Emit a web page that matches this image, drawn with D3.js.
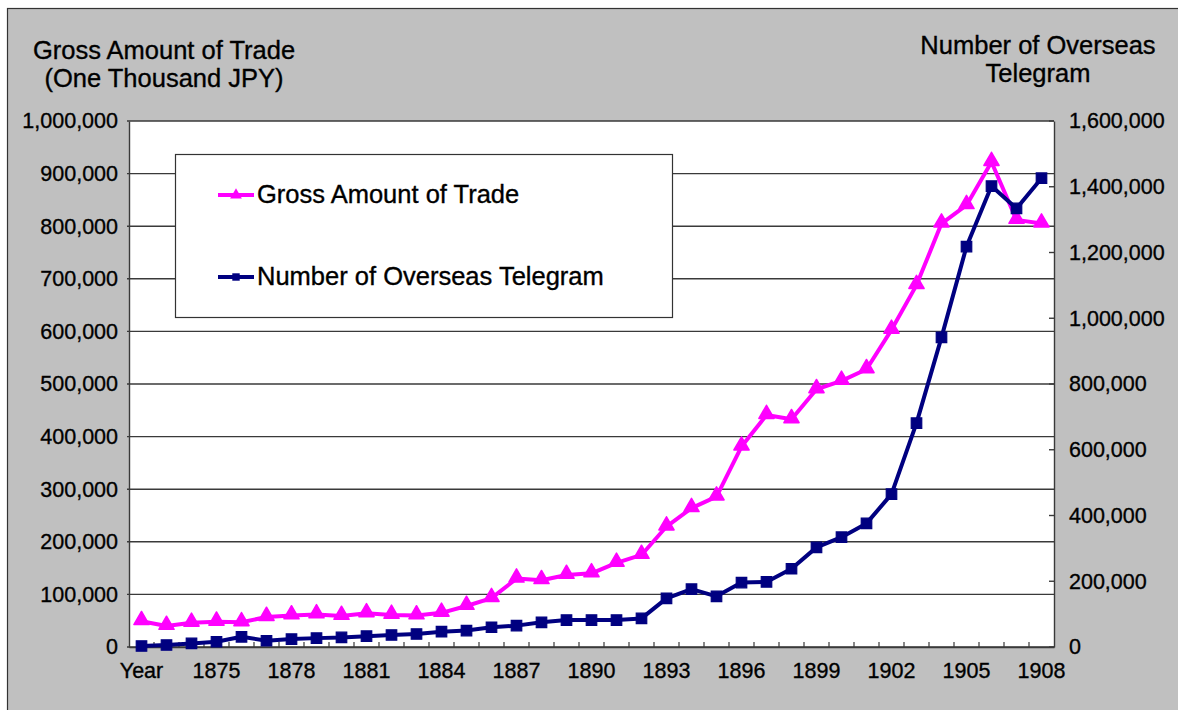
<!DOCTYPE html>
<html>
<head>
<meta charset="utf-8">
<script src="https://cdn.jsdelivr.net/npm/d3@7"></script>
<style>
  html, body { margin: 0; padding: 0; background: #ffffff; }
  svg { display: block; }
  text { font-family: "Liberation Sans", Arial, sans-serif; fill: #000; stroke: #000; stroke-width: 0.35px; }
</style>
</head>
<body>
<svg id="chart" width="1178" height="710"></svg>
<script>
// ---- data ----
const categories = [1872, 1873, 1874, 1875, 1876, 1877, 1878, 1879, 1880, 1881,
  1882, 1883, 1884, 1885, 1886, 1887, 1888, 1889, 1890, 1891,
  1892, 1893, 1894, 1895, 1896, 1897, 1898, 1899, 1900, 1901,
  1902, 1903, 1904, 1905, 1906, 1907, 1908];
const tickYears = [1872, 1875, 1878, 1881, 1884, 1887, 1890, 1893, 1896, 1899, 1902, 1905, 1908];
const tickLabels = ["Year", "1875", "1878", "1881", "1884", "1887", "1890", "1893", "1896", "1899", "1902", "1905", "1908"];
const tradeValues = [49000, 40000, 46000, 48000, 47000, 57000, 60000, 62000, 59000, 64000,
  61000, 60000, 65000, 78000, 93000, 130000, 127000, 137000, 140000, 160000,
  175000, 229000, 264000, 286000, 381000, 441000, 433000, 490000, 506000, 528000,
  603000, 688000, 805000, 840000, 922000, 812000, 805000];
const telegramValues = [3000, 6000, 11000, 16000, 31000, 19000, 24000, 27000, 29000, 33000,
  36500, 39500, 46500, 50000, 60000, 65000, 75000, 82000, 82000, 82000,
  87000, 148000, 176000, 154000, 196000, 198000, 238000, 303000, 334000, 376000,
  465000, 681000, 942000, 1218000, 1402000, 1334000, 1426000];
const leftTicks = [0, 100000, 200000, 300000, 400000, 500000, 600000, 700000, 800000, 900000, 1000000];
const rightTicks = [0, 200000, 400000, 600000, 800000, 1000000, 1200000, 1400000, 1600000];
const seriesNames = ["Gross Amount of Trade", "Number of Overseas Telegram"];
const leftTitle = ["Gross Amount of Trade", "(One Thousand JPY)"];
const rightTitle = ["Number of Overseas", "Telegram"];

// ---- layout ----
const svg = d3.select("#chart");
const plot = { left: 129, right: 1054, top: 121, bottom: 647 };
const pink = "#ff00ff", navy = "#000080", gridCol = "#3a3a3a";
const tickFont = "21.5px", titleFont = "25.5px";

svg.append("rect").attr("x", 7.5).attr("y", 8.5).attr("width", 1200).attr("height", 720)
  .attr("fill", "#c0c0c0").attr("stroke", "#333").attr("stroke-width", 1.2);

const x = d3.scaleBand().domain(categories).range([plot.left, plot.right]).padding(0);
const cx = d => x(d) + x.bandwidth() / 2;
const yL = d3.scaleLinear().domain([0, 1000000]).range([plot.bottom, plot.top]);
const yR = d3.scaleLinear().domain([0, 1600000]).range([plot.bottom, plot.top]);

svg.append("rect").attr("x", plot.left).attr("y", plot.top)
  .attr("width", plot.right - plot.left).attr("height", plot.bottom - plot.top)
  .attr("fill", "#fff");

// gridlines
svg.append("g").selectAll("line").data(leftTicks).join("line")
  .attr("x1", plot.left - 2).attr("x2", plot.right)
  .attr("y1", d => yL(d)).attr("y2", d => yL(d))
  .attr("stroke", gridCol).attr("stroke-width", 1.4);

// left axis
const fmt = d3.format(",");
function styleAxisText(g) {
  g.selectAll("text").attr("font-size", tickFont)
    .attr("font-family", "Liberation Sans, Arial, sans-serif").attr("fill", "#000");
}
const gL = svg.append("g").attr("transform", `translate(${plot.left},0)`)
  .call(d3.axisLeft(yL).tickValues(leftTicks).tickFormat(fmt).tickSize(0).tickPadding(11));
gL.select(".domain").attr("stroke", gridCol).attr("stroke-width", 1.4);
styleAxisText(gL);

// right axis
const gR = svg.append("g").attr("transform", `translate(${plot.right},0)`)
  .call(d3.axisRight(yR).tickValues(rightTicks).tickFormat(fmt).tickSize(0).tickPadding(15));
gR.select(".domain").attr("stroke", gridCol).attr("stroke-width", 1.4);
styleAxisText(gR);
svg.append("g").selectAll("line").data(rightTicks).join("line")
  .attr("x1", plot.right - 5).attr("x2", plot.right)
  .attr("y1", d => yR(d)).attr("y2", d => yR(d))
  .attr("stroke", gridCol).attr("stroke-width", 1.4);

// bottom axis
const gB = svg.append("g").attr("transform", `translate(0,${plot.bottom})`)
  .call(d3.axisBottom(x).tickValues(tickYears)
    .tickFormat(d => tickLabels[tickYears.indexOf(d)]).tickSize(0).tickPadding(16));
gB.select(".domain").attr("stroke", gridCol).attr("stroke-width", 1.4);
styleAxisText(gB);
svg.append("g").selectAll("line").data(categories.slice(1)).join("line")
  .attr("x1", d => x(d)).attr("x2", d => x(d))
  .attr("y1", plot.bottom - 5).attr("y2", plot.bottom)
  .attr("stroke", gridCol).attr("stroke-width", 1.2);

// series
const tri = d3.symbol().type(d3.symbolTriangle).size(100);
const sq = d3.symbol().type(d3.symbolSquare).size(110);

const lineT = d3.line().x((d, i) => cx(categories[i])).y(d => yL(d));
svg.append("path").datum(tradeValues).attr("d", lineT)
  .attr("fill", "none").attr("stroke", pink).attr("stroke-width", 4).attr("stroke-linejoin", "round");
svg.append("g").selectAll("path").data(tradeValues).join("path")
  .attr("d", tri).attr("fill", pink).attr("stroke", pink).attr("stroke-width", 1.5)
  .attr("stroke-linejoin", "round")
  .attr("transform", (d, i) => `translate(${cx(categories[i])},${yL(d) - 1})`);

const lineN = d3.line().x((d, i) => cx(categories[i])).y(d => yR(d));
svg.append("path").datum(telegramValues).attr("d", lineN)
  .attr("fill", "none").attr("stroke", navy).attr("stroke-width", 4).attr("stroke-linejoin", "round");
svg.append("g").selectAll("path").data(telegramValues).join("path")
  .attr("d", sq).attr("fill", navy).attr("stroke", navy).attr("stroke-width", 1.2)
  .attr("transform", (d, i) => `translate(${cx(categories[i])},${yR(d)})`);

// legend
const lg = svg.append("g");
lg.append("rect").attr("x", 175.5).attr("y", 154.5).attr("width", 497).attr("height", 163)
  .attr("fill", "#fff").attr("stroke", "#333").attr("stroke-width", 1.2);
const legendItems = [
  { name: seriesNames[0], color: pink, sym: d3.symbol().type(d3.symbolTriangle).size(60), y: 195 },
  { name: seriesNames[1], color: navy, sym: d3.symbol().type(d3.symbolSquare).size(55), y: 277 }
];
legendItems.forEach(it => {
  lg.append("line").attr("x1", 218).attr("x2", 254).attr("y1", it.y).attr("y2", it.y)
    .attr("stroke", it.color).attr("stroke-width", 4);
  lg.append("path").attr("d", it.sym).attr("fill", it.color)
    .attr("transform", `translate(236,${it.y})`);
  lg.append("text").attr("x", 257).attr("y", it.y + 8)
    .attr("font-size", titleFont).text(it.name);
});

// axis titles
svg.append("g").selectAll("text").data(leftTitle).join("text")
  .attr("x", 164).attr("y", (d, i) => 59 + i * 28).attr("text-anchor", "middle")
  .attr("font-size", titleFont).text(d => d);
svg.append("g").selectAll("text").data(rightTitle).join("text")
  .attr("x", 1038).attr("y", (d, i) => 54 + i * 28).attr("text-anchor", "middle")
  .attr("font-size", titleFont).text(d => d);
</script>
</body>
</html>
